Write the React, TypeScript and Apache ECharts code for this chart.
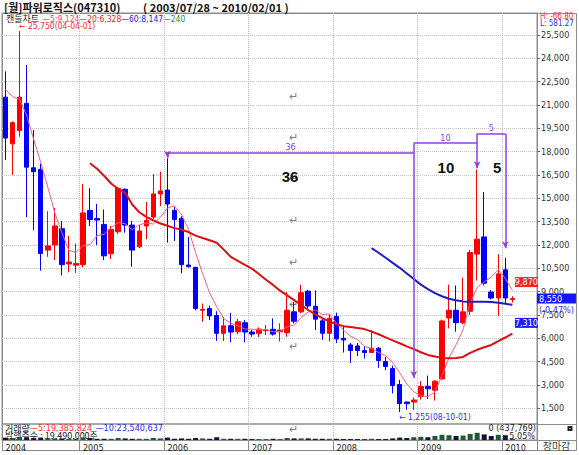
import React, { useEffect, useRef } from "react";
import * as echarts from "echarts";

// ---------- data (monthly candles, first visible month 2004-02) ----------
const FIRST_YEAR = 2004;
const FIRST_MONTH = 2;
const BLANK_MONTHS = 3;

const opens = [
  21500, 18500, 19350, 21100, 16960, 16860, 11670, 12000, 13040, 10780, 10700,
  10730, 14220, 13700, 13320, 11450, 12850, 15580, 13280, 11880, 13220, 13790, 15280,
  15530, 14220, 13700, 10710, 10560, 7800, 7910, 7470, 6320, 6800, 6420, 7000,
  6400, 6320, 6500, 6575, 6420, 6360, 7700, 7700, 9030, 8060, 7120, 6320,
  7400, 6000, 5575, 5510, 5210, 5085, 5360, 4510, 4050, 3030, 1900, 1900,
  2260, 2900, 2660, 3390, 7310, 7800, 7000, 7740, 11410, 12515, 8970, 8590,
  10400, 8500,
];
const closes = [
  18870, 19860, 21500, 17000, 16710, 11450, 11940, 13220, 10730, 10900, 10800,
  14060, 13640, 13600, 11300, 13000, 15640, 13280, 11670, 12900, 13580, 15280, 15470,
  14630, 13640, 10730, 10600, 7910, 7860, 7440, 6320, 6800, 6400, 7060, 6400,
  6270, 6590, 6530, 6270, 6530, 7800, 7100, 8930, 8080, 7230, 6320, 7275,
  5960, 5890, 5210, 5210, 5085, 5360, 4575, 4190, 2965, 1800, 1800, 2030,
  2900, 2750, 3240, 7115, 7800, 7000, 7700, 11515, 12370, 9540, 8590, 10140,
  8590, 8550,
];
const lows = [
  17460, 16500, 18960, 13790, 12940, 10350, 11240, 11030, 10030, 10240, 10200,
  10560, 13220, 12000, 11030, 11100, 12690, 12790, 10600, 11800, 12370, 13640, 14490,
  12150, 12260, 10180, 10550, 7800, 7060, 7170, 5830, 5830, 5750, 6260, 5750,
  6100, 6070, 6210, 6170, 5790, 6100, 6960, 7600, 7800, 6530, 5900, 5790,
  5690, 5085, 4410, 4850, 4700, 5085, 4100, 3950, 2460, 1255, 1400, 1400,
  2060, 2100, 2000, 3350, 6640, 6420, 6900, 7500, 9710, 9400, 8500, 7420,
  8230, 8300,
];
const highs = [
  23160, 19950, 25750, 23570, 19390, 17250, 14170, 14380, 13530, 12580, 12090,
  15920, 15640, 14640, 14280, 13220, 15740, 15640, 13530, 13280, 14760, 16560, 16710,
  17570, 14430, 13850, 12520, 10600, 8230, 8100, 7740, 7380, 7630, 7250, 7170,
  6530, 6700, 6850, 7280, 6960, 8970, 8330, 9440, 9100, 9080, 7250, 7540,
  7650, 6740, 5700, 5700, 5500, 6530, 5450, 4800, 4240, 3330, 1930, 2200,
  3240, 3600, 3300, 7200, 9450, 9400, 9900, 11680, 16850, 15400, 9100, 11400,
  11180, 8700,
];
// closes of 2003-10 .. 2004-01 (left of the visible window), estimated from the MA5 line
const preCloses = [22000, 22500, 22000, 24500];

// MA20, starting at 2005-02
const MA20_START = 12;
const ma20Values = [
  17250, 16900, 16450, 15950, 15600, 15350, 14600, 14100, 13800, 13580, 13380,
  13230, 13080, 12980, 12830, 12600, 12450, 12300, 12140, 11700, 11230, 10970, 10720,
  10480, 10130, 9760, 9430, 9060, 8760, 8450, 8140, 7820, 7530, 7300, 7080,
  6920, 6780, 6720, 6660, 6590, 6430, 6260, 6060, 5870, 5680, 5480, 5300,
  5100, 4930, 4830, 4740, 4710, 4740, 4800, 5060, 5260, 5420, 5570, 5820,
  6050, 6300,
];
// MA60, starting at 2008-06
const MA60_START = 52;
const ma60Values = [
  11790, 11500, 11180, 10850, 10530, 10170, 9810, 9450, 9160, 8900, 8700,
  8540, 8440, 8370, 8350, 8350, 8350, 8330, 8290, 8220, 8150,
];
// monthly volume (thousand shares)
const volumes = [
  3000, 2500, 4000, 3500, 2500, 3000, 2000, 2000, 2000, 1500, 1500,
  3000, 2500, 1500, 1500, 1500, 2500, 2000, 1500, 1500, 1500, 2500, 2000,
  3000, 1500, 2000, 1500, 2500, 2000, 1500, 3500, 1500, 1500, 1500, 1500,
  1200, 1200, 1200, 1500, 1200, 2500, 2000, 2000, 2000, 1500, 1500, 1500,
  1500, 1200, 1200, 1200, 1000, 1500, 1200, 1200, 2000, 3000, 2500, 3500,
  4000, 3500, 5000, 6500, 6000, 5000, 5500, 7500, 9000, 7000, 5000, 6500,
  6000, 1500,
];
const yTicks = [1500, 3000, 4500, 6000, 7500, 9000, 10500, 12000, 13500, 15000,
  16500, 18000, 19500, 21000, 22500, 24000, 25500];
const lastPrice = 8550;
const lastChange = "(-0.47%)";

const PURPLE = "#8f3fe6";
const UP = "#ff0000";
const DOWN = "#0000ff";
const NUM_FONT = '"Liberation Sans Narrow", "DejaVu Sans Condensed", "Liberation Sans", Arial, sans-serif';
const KR_FONT = '"Noto Sans CJK KR", sans-serif';

const fmt = (v: number) => String(Math.round(v)).replace(/\B(?=(\d{3})+(?!\d))/g, ",");

export default function App() {
  const ref = useRef<HTMLDivElement>(null);

  useEffect(() => {
    if (!ref.current) return;
    const chart = echarts.init(ref.current, undefined, { renderer: "svg" });

    const months: string[] = [];
    for (let k = 0; k < closes.length + BLANK_MONTHS; k++) {
      const m0 = FIRST_MONTH - 1 + k;
      const y = FIRST_YEAR + Math.floor(m0 / 12);
      const m = (m0 % 12) + 1;
      months.push(`${y}-${String(m).padStart(2, "0")}`);
    }
    const lastCat = months[months.length - 1];
    const isYearStart = (i: number) => !!months[i] && months[i].endsWith("-01");

    const candleData = closes.map((c, i) => [opens[i], c, lows[i], highs[i]]);
    const allCloses = preCloses.concat(closes);
    const ma5 = closes.map((_, i) => {
      let s = 0;
      for (let k = 0; k < 5; k++) s += allCloses[i + k];
      return Math.round(s / 5);
    });
    const ma20 = closes.map((_, i) =>
      i >= MA20_START && i - MA20_START < ma20Values.length ? ma20Values[i - MA20_START] : null
    );
    const ma60 = closes.map((_, i) =>
      i >= MA60_START && i - MA60_START < ma60Values.length ? ma60Values[i - MA60_START] : null
    );
    const volData = volumes.map((v, i) => ({
      value: v,
      itemStyle: { color: closes[i] >= opens[i] ? "#1f5a36" : "#12123a" },
    }));

    const seg = (a: [string, number], b: [string, number], arrow = false, label?: string) => [
      {
        coord: a,
        symbol: "none",
        label: label
          ? { show: true, formatter: label, position: "insideMiddleTop", distance: 1, color: PURPLE, fontSize: 9, fontFamily: NUM_FONT }
          : { show: false },
      },
      { coord: b, symbol: arrow ? "arrow" : "none", symbolSize: [5, 7] },
    ];

    const txtPoint = (coord: [string, number], text: string, color: string, extra: any) => ({
      coord,
      symbol: "rect",
      symbolSize: 1,
      itemStyle: { color: "rgba(0,0,0,0)" },
      label: { show: true, formatter: text, color, fontFamily: NUM_FONT, ...extra },
    });

    const gText = (x: number, y: number, text: string, fill: string, font: string, align = "left") => ({
      type: "text",
      x,
      y,
      silent: true,
      style: { text, fill, font, textAlign: align, textVerticalAlign: "middle" },
    });

    const returnMarks = [95, 136, 177, 219, 261, 303, 345, 428].map((y) =>
      gText(293, y, "↵", "#808080", `11px ${KR_FONT}`, "center")
    );

    const option: any = {
      animation: false,
      backgroundColor: "#ffffff",
      grid: [
        { left: 2, top: 13, width: 535, height: 411, show: true, borderColor: "#8c8c8c", borderWidth: 1 },
        { left: 2, top: 424, width: 535, height: 16, show: true, borderColor: "#8c8c8c", borderWidth: 1 },
      ],
      xAxis: [
        {
          type: "category",
          gridIndex: 0,
          data: months,
          boundaryGap: true,
          axisLine: { show: false },
          axisTick: { show: false },
          axisLabel: { show: false },
          splitLine: { show: true, interval: (i: number) => isYearStart(i), lineStyle: { color: "#bdbdbd", type: "dotted" } },
        },
        {
          type: "category",
          gridIndex: 1,
          data: months,
          boundaryGap: true,
          axisLine: { show: true, lineStyle: { color: "#8c8c8c" } },
          axisTick: { show: true, interval: (i: number) => isYearStart(i), length: 10, lineStyle: { color: "#8c8c8c" } },
          axisLabel: {
            show: true,
            interval: (i: number) => i === 0 || isYearStart(i),
            formatter: (v: string) => v.slice(0, 4),
            align: "left",
            fontSize: 9,
            color: "#222",
            margin: 3,
            fontFamily: NUM_FONT,
          },
          splitLine: { show: true, interval: (i: number) => isYearStart(i), lineStyle: { color: "#bdbdbd", type: "dotted" } },
        },
      ],
      yAxis: [
        {
          type: "value",
          gridIndex: 0,
          position: "right",
          min: 490,
          max: 26910,
          axisLine: { show: true, lineStyle: { color: "#8c8c8c" } },
          axisTick: { show: true, length: 3, customValues: yTicks, lineStyle: { color: "#666" } },
          axisLabel: { customValues: yTicks, formatter: (v: number) => fmt(v), fontSize: 9, color: "#333", margin: 4, fontFamily: NUM_FONT },
          splitLine: { show: true, lineStyle: { color: "#c4c4c4", type: "dotted" } },
        },
        {
          type: "value",
          gridIndex: 1,
          position: "right",
          min: 0,
          max: 20000,
          axisLine: { show: true, lineStyle: { color: "#8c8c8c" } },
          axisTick: { show: false },
          axisLabel: { show: false },
          splitLine: { show: false },
        },
      ],
      series: [
        {
          type: "candlestick",
          name: "candle",
          xAxisIndex: 0,
          yAxisIndex: 0,
          data: candleData,
          barWidth: 5,
          itemStyle: { color: UP, color0: DOWN, borderColor: UP, borderColor0: DOWN, borderWidth: 1 },
          markLine: {
            silent: true,
            animation: false,
            symbol: ["none", "none"],
            symbolSize: [5, 7],
            lineStyle: { color: PURPLE, width: 1.5, type: "solid" },
            label: { show: false },
            data: [
              seg(["2006-01", 17950], ["2006-01", 17600], true),
              seg(["2006-01", 17950], ["2008-12", 17950], false, "36"),
              seg(["2008-12", 18540], ["2008-12", 3450], true),
              seg(["2008-12", 18540], ["2009-09", 18540], false, "10"),
              seg(["2009-09", 19140], ["2009-09", 16930], true),
              seg(["2009-09", 19140], ["2010-01", 19140], false, "5"),
              seg(["2010-01", 19140], ["2010-01", 11790], true),
            ],
          },
          markPoint: {
            silent: true,
            animation: false,
            data: [
              txtPoint(["2004-04", 25750], "← 25,750(04-04-01)", "#ff2a2a", { position: "right", distance: 0, offset: [-1, -5], fontSize: 8.5 }),
              txtPoint(["2008-10", 1255], "← 1,255(08-10-01)", "#2f2fff", { position: "right", distance: 0, offset: [-1, 5], fontSize: 8.5 }),
              txtPoint(["2007-06", 16430], "36", "#111", { position: "inside", offset: [3, 0], fontSize: 15, fontWeight: "bold", fontFamily: '"Liberation Sans", Arial, sans-serif' }),
              txtPoint(["2009-04", 16950], "10", "#111", { position: "inside", offset: [4, 0], fontSize: 15, fontWeight: "bold", fontFamily: '"Liberation Sans", Arial, sans-serif' }),
              txtPoint(["2009-12", 16950], "5", "#111", { position: "inside", offset: [-1, 0], fontSize: 15, fontWeight: "bold", fontFamily: '"Liberation Sans", Arial, sans-serif' }),
              {
                coord: ["2010-04", 9870],
                symbol: "rect",
                symbolSize: [23, 10],
                symbolOffset: [0, 4],
                itemStyle: { color: "#ff1f1f" },
                label: { show: true, position: "inside", formatter: "9,870", color: "#fff", fontSize: 9, fontFamily: NUM_FONT },
              },
              {
                coord: ["2010-04", 7310],
                symbol: "rect",
                symbolSize: [23, 10],
                symbolOffset: [0, 5],
                itemStyle: { color: "#1f1fff" },
                label: { show: true, position: "inside", formatter: "7,310", color: "#fff", fontSize: 9, fontFamily: NUM_FONT },
              },
              {
                coord: [lastCat, lastPrice],
                symbol: "rect",
                symbolSize: [39, 10],
                symbolOffset: [23, 0],
                itemStyle: { color: "#1414ff" },
                label: { show: true, position: "insideLeft", distance: 2, formatter: fmt(lastPrice), color: "#fff", fontSize: 9, fontFamily: NUM_FONT },
              },
              {
                coord: [lastCat, lastPrice],
                symbol: "rect",
                symbolSize: 1,
                symbolOffset: [5, 11],
                itemStyle: { color: "rgba(0,0,0,0)" },
                label: { show: true, position: "right", distance: 0, formatter: lastChange, color: "#2b2bff", fontSize: 9, fontFamily: NUM_FONT },
              },
            ],
          },
        },
        {
          type: "line",
          name: "MA5",
          xAxisIndex: 0,
          yAxisIndex: 0,
          data: ma5,
          symbol: "none",
          lineStyle: { color: "#ff5c8d", width: 1 },
        },
        {
          type: "line",
          name: "MA20",
          xAxisIndex: 0,
          yAxisIndex: 0,
          data: ma20,
          symbol: "none",
          lineStyle: { color: "#dd1010", width: 2 },
        },
        {
          type: "line",
          name: "MA60",
          xAxisIndex: 0,
          yAxisIndex: 0,
          data: ma60,
          symbol: "none",
          lineStyle: { color: "#1c1cc4", width: 2 },
        },
        {
          type: "bar",
          name: "volume",
          xAxisIndex: 1,
          yAxisIndex: 1,
          data: volData,
          barWidth: 5,
        },
      ],
      graphic: [
        {
          type: "rect",
          silent: true,
          shape: { x: 2.5, y: 13.5, width: 574, height: 437 },
          style: { fill: "none", stroke: "#8c8c8c", lineWidth: 1 },
        },
        { type: "line", silent: true, shape: { x1: 537, y1: 424.5, x2: 576, y2: 424.5 }, style: { stroke: "#8c8c8c" } },
        { type: "line", silent: true, shape: { x1: 537, y1: 440.5, x2: 576, y2: 440.5 }, style: { stroke: "#8c8c8c" } },
        { type: "line", silent: true, shape: { x1: 537.5, y1: 440, x2: 537.5, y2: 450 }, style: { stroke: "#8c8c8c" } },
        gText(4, 7, "[월]파워로직스(047310)", "#111", `bold 11px ${KR_FONT}`),
        gText(143, 7, "( 2003/07/28 ~ 2010/02/01 )", "#111", `bold 11px ${KR_FONT}`),
        {
          type: "text",
          x: 6,
          y: 18.5,
          silent: true,
          style: {
            text: "{k|캔들차트} {a|—5:9,124}{b|—20:6,328}{c|—60:8,147}{d|—240}",
            textVerticalAlign: "middle",
            rich: {
              k: { fill: "#222", fontSize: 9, fontFamily: KR_FONT },
              a: { fill: "#ff3c6e", fontSize: 8.5, fontFamily: NUM_FONT },
              b: { fill: "#ee2222", fontSize: 8.5, fontFamily: NUM_FONT },
              c: { fill: "#2222ee", fontSize: 8.5, fontFamily: NUM_FONT },
              d: { fill: "#22962a", fontSize: 8.5, fontFamily: NUM_FONT },
            },
          },
        },
        gText(540, 16.5, "H: -66.80", "#ff3030", `8px ${NUM_FONT}`),
        gText(540, 23, "L: 581.27", "#3030ff", `8px ${NUM_FONT}`),
        {
          type: "text",
          x: 5,
          y: 428,
          silent: true,
          style: {
            text: "{k|거래량}{a|—5:19,385,824} {b|—10:23,540,637}",
            textVerticalAlign: "middle",
            rich: {
              k: { fill: "#222", fontSize: 9, fontFamily: KR_FONT },
              a: { fill: "#ff3030", fontSize: 9, fontFamily: NUM_FONT },
              b: { fill: "#2828ee", fontSize: 9, fontFamily: NUM_FONT },
            },
          },
        },
        gText(5, 435.5, "발행주수 : 19,490,000주", "#222", `9px ${KR_FONT}`),
        gText(536, 428, "0 (437,769)", "#222", `9px ${NUM_FONT}`, "right"),
        gText(535, 435.5, "5.05%", "#222", `9px ${NUM_FONT}`, "right"),
        gText(556.5, 445.5, "장마감", "#444", `10px ${KR_FONT}`, "center"),
        { type: "rect", silent: true, shape: { x: 567.5, y: 426, width: 5, height: 5 }, style: { fill: "#222" } },
        { type: "rect", silent: true, shape: { x: 569.5, y: 428, width: 1, height: 1 }, style: { fill: "#fff" } },
        ...returnMarks,
      ],
    };

    chart.setOption(option);
    return () => chart.dispose();
  }, []);

  return (
    <div
      ref={ref}
      style={{ position: "fixed", left: 0, top: 0, width: 579, height: 455, background: "#fff" }}
    />
  );
}
